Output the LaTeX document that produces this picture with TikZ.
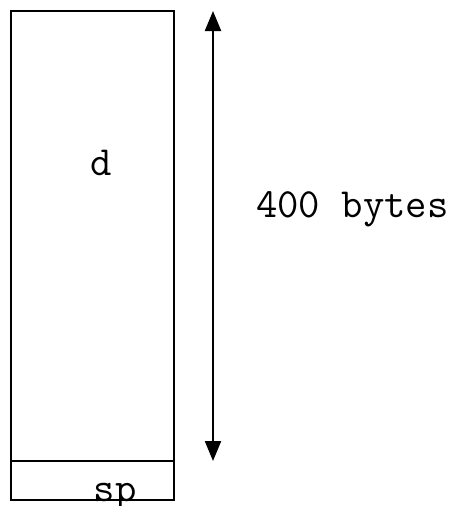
\documentclass[tikz,border=0pt]{standalone}
\usetikzlibrary{arrows.meta}
\begin{document}
\begin{tikzpicture}[x=1pt,y=-1pt,
  frame/.style={draw=black,line width=2.2pt},
  lbl/.style={font=\fontsize{41.5}{44}\selectfont\ttfamily,inner sep=0pt},
  span/.style={line width=2.2pt,{Triangle[length=20pt,width=16pt]}-{Triangle[length=20pt,width=16pt]}}]
  \useasboundingbox (0,0) rectangle (451,506);
  % memory block: data area above, saved sp below
  \draw[frame] (11,11) rectangle (174,461);
  \draw[frame] (11,461) rectangle (174,500);
  \coordinate (top) at (213,11);
  \coordinate (bot) at (213,461);
  \node[lbl,anchor=base] (d) at (101,175) {d};
  \node[lbl,anchor=base] (sp) at (115,501) {sp};
  \node[lbl,anchor=base west] (size) at (256,217) {400 bytes};
  % size of the data area
  \draw[span] (top) -- (bot);
\end{tikzpicture}
\end{document}
